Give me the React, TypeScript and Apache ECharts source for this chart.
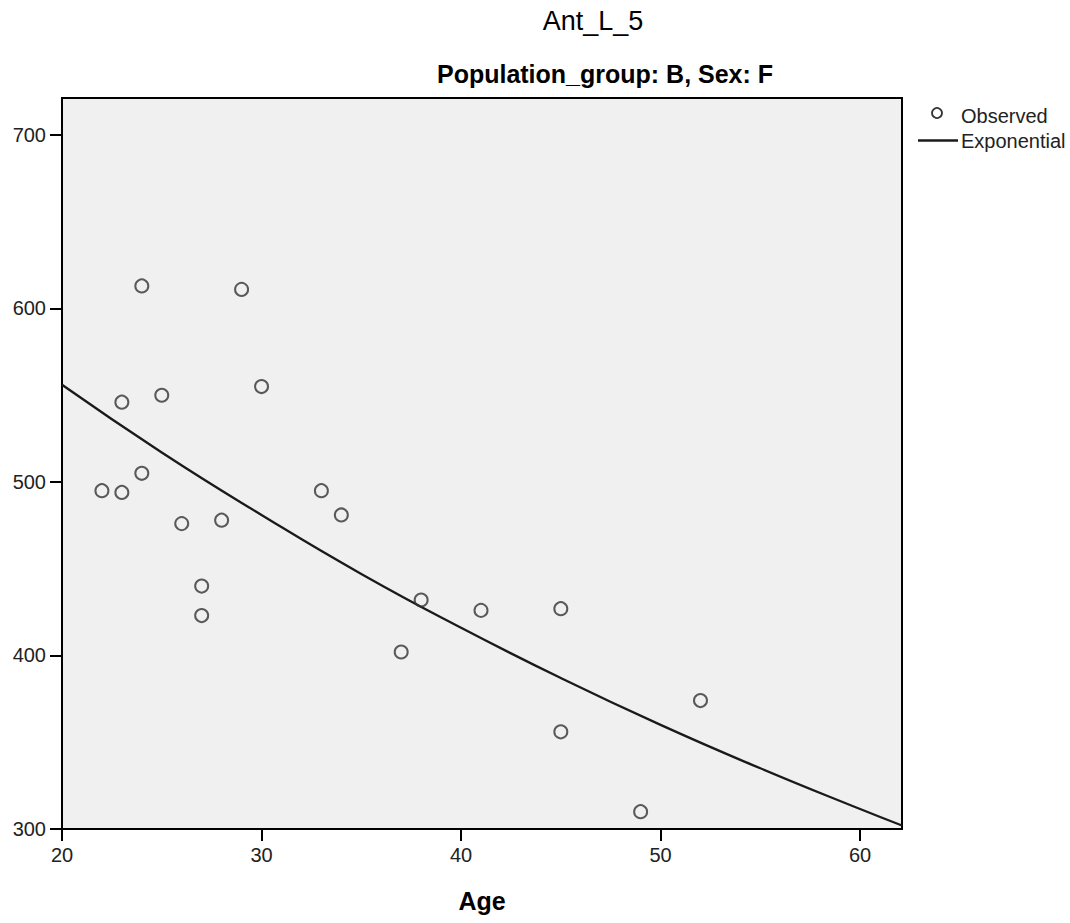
import React, { useEffect, useRef } from "react";
import * as echarts from "echarts";

const ages = [22, 23, 23, 24, 24, 25, 26, 27, 27, 28, 29, 30, 33, 34, 37, 38, 41, 45, 45, 49, 52];
const values = [495, 494, 546, 505, 613, 550, 476, 440, 423, 478, 611, 555, 495, 481, 402, 432, 426, 427, 356, 310, 374];
const fitAges = [20, 25, 30, 35, 40, 45, 50, 55, 60, 62.1];
const fitValues = [556, 517, 481, 447, 416, 387, 360, 335, 311.5, 302];
const xTicks = [20, 30, 40, 50, 60];
const yTicks = [300, 400, 500, 600, 700];

const FONT = "'Liberation Sans', Arial, sans-serif";

export default function App() {
  const ref = useRef<HTMLDivElement>(null);
  useEffect(() => {
    if (!ref.current) return;
    const chart = echarts.init(ref.current, null, { renderer: "svg" });
    chart.setOption({
      animation: false,
      backgroundColor: "#ffffff",
      title: [
        {
          text: "Ant_L_5",
          left: 588,
          top: 2,
          textAlign: "center",
          textStyle: { fontFamily: FONT, fontSize: 27, fontWeight: "normal", color: "#000" },
        },
        {
          text: "Population_group: B, Sex: F",
          left: 600,
          top: 56,
          textAlign: "center",
          textStyle: { fontFamily: FONT, fontSize: 25, fontWeight: "bold", color: "#000" },
        },
      ],
      grid: {
        left: 62,
        right: 168,
        top: 98,
        bottom: 94,
        outerBoundsMode: "none",
        containLabel: false,
        show: true,
        backgroundColor: "#F0F0F0",
        borderColor: "#000",
        borderWidth: 2,
      },
      xAxis: {
        type: "value",
        min: 20,
        max: 62.1,
        interval: 10,
        name: "Age",
        nameLocation: "middle",
        nameGap: 59,
        nameMoveOverlap: false,
        nameTextStyle: { fontFamily: FONT, fontSize: 25, fontWeight: "bold", color: "#000" },
        splitLine: { show: false },
        axisLine: { show: true, lineStyle: { color: "#000", width: 2 } },
        axisTick: { show: true, length: 12, customValues: xTicks, lineStyle: { color: "#000", width: 2 } },
        axisLabel: { customValues: xTicks, fontFamily: FONT, fontSize: 20, color: "#222", margin: 16 },
      },
      yAxis: {
        type: "value",
        min: 300,
        max: 721.3,
        interval: 100,
        splitLine: { show: false },
        axisLine: { show: true, lineStyle: { color: "#000", width: 2 } },
        axisTick: { show: true, length: 12, customValues: yTicks, lineStyle: { color: "#000", width: 2 } },
        axisLabel: {
          customValues: yTicks,
          fontFamily: FONT,
          fontSize: 20,
          color: "#222",
          margin: 16,
          padding: [6, 0, 0, 0],
        },
      },
      series: [
        {
          name: "Exponential",
          type: "line",
          data: fitAges.map((a, i) => [a, fitValues[i]]),
          smooth: true,
          showSymbol: false,
          lineStyle: { color: "#1a1a1a", width: 2.3 },
          z: 2,
        },
        {
          name: "Observed",
          type: "scatter",
          data: ages.map((a, i) => [a, values[i]]),
          symbol: "circle",
          symbolSize: 13,
          itemStyle: { color: "rgba(0,0,0,0)", borderColor: "#333", borderWidth: 2 },
          z: 3,
        },
      ],
      graphic: [
        {
          type: "circle",
          shape: { cx: 937, cy: 113, r: 5 },
          style: { fill: "none", stroke: "#333", lineWidth: 1.8 },
        },
        {
          type: "text",
          x: 961,
          y: 116,
          style: { text: "Observed", fontFamily: FONT, fontSize: 20, fill: "#222", verticalAlign: "middle" },
        },
        {
          type: "line",
          shape: { x1: 918, y1: 140.5, x2: 958, y2: 140.5 },
          style: { stroke: "#1a1a1a", lineWidth: 2.3 },
        },
        {
          type: "text",
          x: 961,
          y: 141,
          style: { text: "Exponential", fontFamily: FONT, fontSize: 20, fill: "#222", verticalAlign: "middle" },
        },
      ],
    });
    return () => chart.dispose();
  }, []);
  return (
    <div
      ref={ref}
      style={{ position: "fixed", left: 0, top: 0, width: 1070, height: 923 }}
    />
  );
}
